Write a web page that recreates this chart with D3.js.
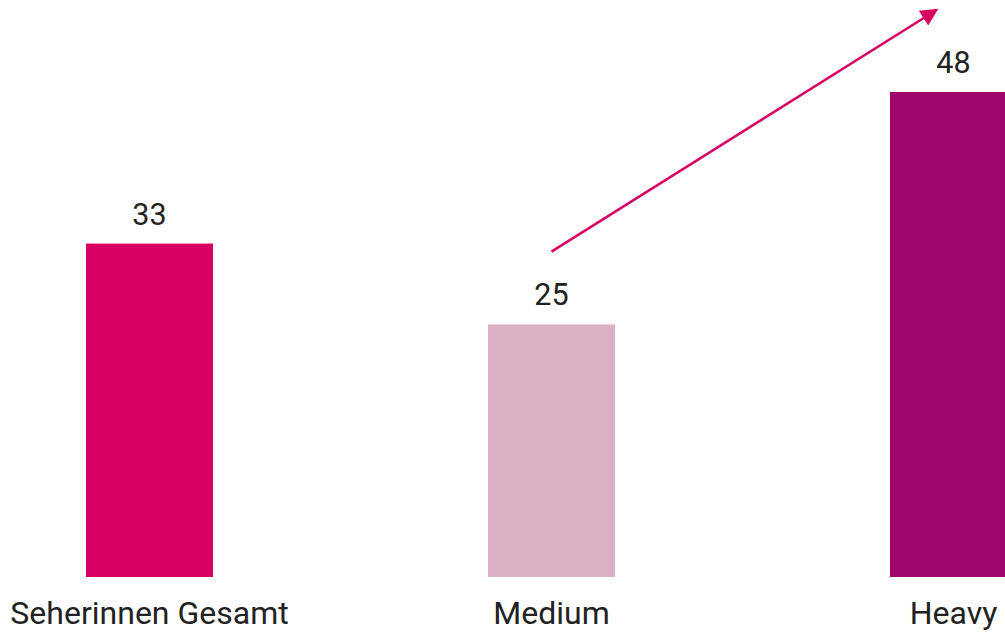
<!DOCTYPE html>
<html><head><meta charset="utf-8">
<script src="https://cdn.jsdelivr.net/npm/d3@7"></script>
<style>html,body{margin:0;padding:0;background:#fff;overflow:hidden}svg{display:block}</style>
</head><body>
<script>
const categories = ["Seherinnen Gesamt", "Medium", "Heavy"];
const values = [33, 25, 48];
const colors = ["#d70162", "#dbafc4", "#a1066c"];
const arrowFrom = {cat: "Medium", value: 32.2};
const arrowTo = {cat: "Heavy", value: 55.5};

const W = 1005, H = 632;
const svg = d3.select("body").append("svg").attr("width", W).attr("height", H);

const x = d3.scaleBand().domain(categories).range([-51.5, 1154.5]).paddingInner(0.684).paddingOuter(0.342);
const y = d3.scaleLinear().domain([0, 48]).range([577, 92]);

svg.selectAll("rect.bar").data(values).join("rect")
  .attr("class", "bar")
  .attr("x", (d, i) => x(categories[i]))
  .attr("width", x.bandwidth())
  .attr("y", d => y(d))
  .attr("height", d => y(0) - y(d))
  .attr("fill", (d, i) => colors[i]);

svg.selectAll("text.val").data(values).join("text")
  .attr("class", "val")
  .attr("x", (d, i) => x(categories[i]) + x.bandwidth() / 2)
  .attr("y", d => y(d) - 19)
  .attr("text-anchor", "middle")
  .attr("font-family", "Roboto")
  .attr("font-size", 30.5)
  .attr("fill", "#222")
  .text(d => d);

const xAxis = d3.axisBottom(x).tickSize(0).tickPadding(0);
const gx = svg.append("g").attr("transform", `translate(0,${y(0)})`).call(xAxis);
gx.select(".domain").remove();
gx.selectAll("text")
  .attr("font-family", "Roboto")
  .attr("font-size", 32)
  .attr("fill", "#222")
  .attr("dy", null)
  .attr("y", 47);

// arrow
const defs = svg.append("defs");
defs.append("marker").attr("id", "ah").attr("viewBox", "0 0 10 10")
  .attr("refX", 2).attr("refY", 5).attr("markerWidth", 8).attr("markerHeight", 7)
  .attr("markerUnits", "strokeWidth")
  .attr("orient", "auto")
  .append("path").attr("d", "M0,0 L10,5 L0,10 z").attr("fill", "#d70162");

const cx = c => x(c) + x.bandwidth() / 2;
const x1 = cx(arrowFrom.cat), y1 = y(arrowFrom.value);
const x2 = cx(arrowTo.cat) - 27, y2 = y(arrowTo.value);
svg.append("line")
  .attr("x1", x1).attr("y1", y1).attr("x2", x2).attr("y2", y2)
  .attr("stroke", "#d70162").attr("stroke-width", 2.5)
  .attr("marker-end", "url(#ah)");
</script>
</body></html>
